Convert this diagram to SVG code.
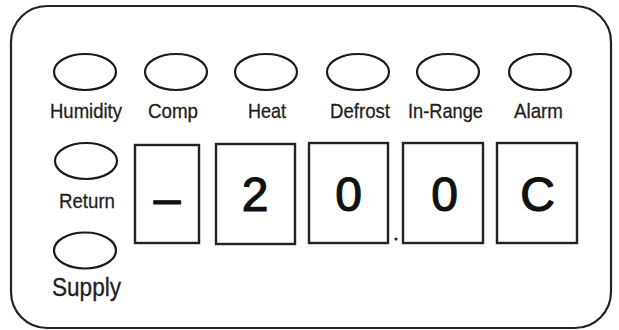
<svg xmlns="http://www.w3.org/2000/svg" width="619" height="330" viewBox="0 0 619 330">
<style>
.frame{fill:#fff;stroke:#222;stroke-width:2.2}
.led{fill:#fff;stroke:#1a1a1a;stroke-width:2.2}
.box{fill:#fff;stroke:#222;stroke-width:2.4}
.lbl{font-family:"Liberation Sans",Arial,sans-serif;font-size:21px;fill:#1e1e1e;stroke:#1e1e1e;stroke-width:0.3;text-anchor:middle}
.dig{font-family:"Liberation Sans",Arial,sans-serif;font-size:48px;fill:#111;stroke:#111;stroke-width:1.2;text-anchor:middle}
</style>
<rect width="619" height="330" fill="#fff"/>
<g id="panel"><rect class="frame" x="11" y="6" width="600" height="322" rx="36" ry="36"/></g>
<g id="humidity"><ellipse class="led" cx="85" cy="72" rx="31" ry="18"/><text class="lbl" x="86" y="118" textLength="72" lengthAdjust="spacingAndGlyphs">Humidity</text></g>
<g id="comp"><ellipse class="led" cx="176" cy="72" rx="31" ry="18"/><text class="lbl" x="173" y="118" textLength="50" lengthAdjust="spacingAndGlyphs">Comp</text></g>
<g id="heat"><ellipse class="led" cx="266" cy="72" rx="31" ry="18"/><text class="lbl" x="267" y="118" textLength="38" lengthAdjust="spacingAndGlyphs">Heat</text></g>
<g id="defrost"><ellipse class="led" cx="358" cy="72" rx="31" ry="18"/><text class="lbl" x="360" y="118" textLength="60" lengthAdjust="spacingAndGlyphs">Defrost</text></g>
<g id="inrange"><ellipse class="led" cx="448" cy="72" rx="31" ry="18"/><text class="lbl" x="445.5" y="118" textLength="75" lengthAdjust="spacingAndGlyphs">In-Range</text></g>
<g id="alarm"><ellipse class="led" cx="540" cy="72" rx="31" ry="18"/><text class="lbl" x="538.5" y="118" textLength="49" lengthAdjust="spacingAndGlyphs">Alarm</text></g>
<g id="return"><ellipse class="led" cx="86" cy="161" rx="31" ry="18"/><text class="lbl" x="87" y="208" textLength="56" lengthAdjust="spacingAndGlyphs">Return</text></g>
<g id="supply"><ellipse class="led" cx="85" cy="250.5" rx="31" ry="18"/><text class="lbl" x="86.5" y="296" style="font-size:25px" textLength="69" lengthAdjust="spacingAndGlyphs">Supply</text></g>
<g id="digit1"><rect class="box" x="135" y="145" width="64" height="98"/><text class="dig" x="167" y="215">–</text></g>
<g id="digit2"><rect class="box" x="216" y="144" width="79" height="100"/><text class="dig" x="255" y="211">2</text></g>
<g id="digit3"><rect class="box" x="309" y="143" width="79" height="100"/><text class="dig" x="348.5" y="211">0</text></g>
<g id="point"><circle cx="396" cy="239" r="1.6" fill="#222"/></g>
<g id="digit4"><rect class="box" x="403" y="143" width="80" height="100"/><text class="dig" x="444.5" y="211">0</text></g>
<g id="digit5"><rect class="box" x="497" y="143" width="80" height="100"/><text class="dig" x="537.5" y="211">C</text></g>
<g id="connectors"></g>
</svg>
